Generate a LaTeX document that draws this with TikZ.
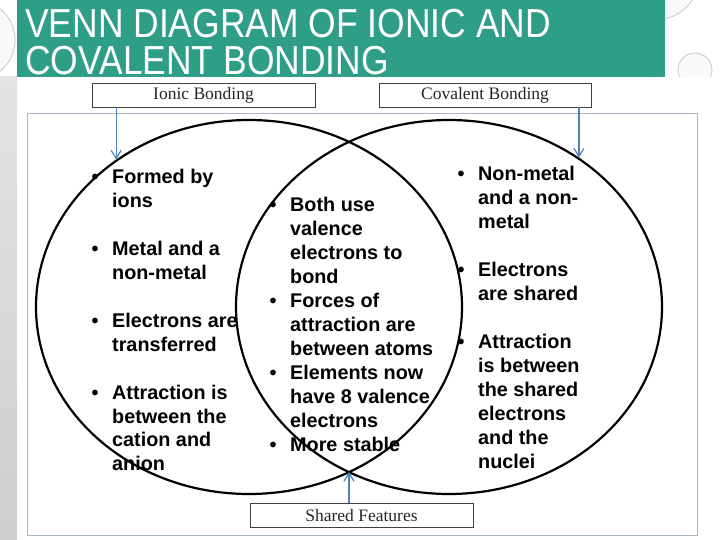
\documentclass[tikz,border=0pt]{standalone}
\usepackage{fontspec}
\setmainfont{Liberation Sans}
\newfontfamily\titlefont[FakeStretch=0.875]{Liberation Sans}
\newfontfamily\boxfont{Liberation Serif}
\usetikzlibrary{arrows.meta, shapes.geometric, positioning}
\definecolor{vdTeal}{HTML}{2E9E86}
\definecolor{vdBlue}{HTML}{4F81BD}
\definecolor{vdFrame}{HTML}{A9B6C6}
\definecolor{vdGrey}{HTML}{404040}
\tikzset{
  labelbox/.style = {draw=vdGrey, line width=0.9pt, fill=white, minimum height=24pt,
                     inner sep=0pt, text=black!85,
                     font=\boxfont\fontsize{17.5}{20}\selectfont},
  pointer/.style  = {-{Straight Barb[length=8pt, width=10pt]}, vdBlue, line width=1.2pt},
  vennset/.style  = {ellipse, draw=black, line width=2.2pt, minimum width=426pt,
                     minimum height=374pt, inner sep=0pt},
  facts/.style    = {anchor=north west, inner sep=0pt, align=left,
                     font=\bfseries\fontsize{19.8}{#1}\selectfont},
  facts/.default  = 24,
  bubble/.style   = {draw=gray!45, line width=0.8pt, fill=gray!5},
}
\newcommand{\bul}{\makebox[21pt][l]{\hspace*{0.5pt}\textbullet}}

\begin{document}
\begin{tikzpicture}[x=1pt, y=-1pt]
  \useasboundingbox (0,0) rectangle (720,540);

  \path[bubble] (-25,40) circle (40);
  \path[bubble] (-4,92) circle (8);
  \path[bubble] (655,-25) circle (45);
  \path[bubble] (695,70) circle (17);
  \shade[top color=gray!22, bottom color=gray!38] (0,77) rectangle (17,540);

  \fill[vdTeal] (17,0) rectangle (665,77);
  \node[anchor=north west, inner sep=0pt, align=left, text=white,
        font=\titlefont\fontsize{40.5}{37}\selectfont] (title) at (25,9)
       {VENN DIAGRAM OF IONIC AND\\COVALENT BONDING};

  \fill[white] (17,77) rectangle (715,540);
  \draw[vdFrame, line width=1pt] (27,114) rectangle (697,535);

  \node[vennset] (ionicset) at (249,307) {};
  \node[vennset] (covset)   at (449,307) {};
  \coordinate (meet) at (349,472);

  \node[labelbox, minimum width=223pt] (ionic)    at (203.5,95)  {Ionic Bonding};
  \node[labelbox, minimum width=212pt] (covalent) at (485,95)    {Covalent Bonding};
  \node[labelbox, minimum width=223pt] (shared)   at (361.5,515.5) {Shared Features};

  \draw[pointer] (ionic.south -| ionicset.132) -- (ionicset.132);
  \draw[pointer] (covalent.south -| covset.49) -- (covset.49);
  \draw[pointer] (shared.north -| meet) -- (meet);

  \node[facts=23.5] (ionicfacts) at (91,169)
       {\bul Formed by\\\hspace*{21pt}ions\\[25pt]
        \bul Metal and a\\\hspace*{21pt}non-metal\\[25pt]
        \bul Electrons are\\\hspace*{21pt}transferred\\[25pt]
        \bul Attraction is\\\hspace*{21pt}between the\\\hspace*{21pt}cation and\\\hspace*{21pt}anion};
  \node[facts] (sharedfacts) at (269,197)
       {\bul Both use\\\hspace*{21pt}valence\\\hspace*{21pt}electrons to\\\hspace*{21pt}bond\\
        \bul Forces of\\\hspace*{21pt}attraction are\\\hspace*{21pt}between atoms\\
        \bul Elements now\\\hspace*{21pt}have 8 valence\\\hspace*{21pt}electrons\\
        \bul More stable};
  \node[facts] (covfacts) at (457,165.5)
       {\bul Non-metal\\\hspace*{21pt}and a non-\\\hspace*{21pt}metal\\[24pt]
        \bul Electrons\\\hspace*{21pt}are shared\\[24pt]
        \bul Attraction\\\hspace*{21pt}is between\\\hspace*{21pt}the shared\\\hspace*{21pt}electrons\\\hspace*{21pt}and the\\\hspace*{21pt}nuclei};
\end{tikzpicture}
\end{document}
